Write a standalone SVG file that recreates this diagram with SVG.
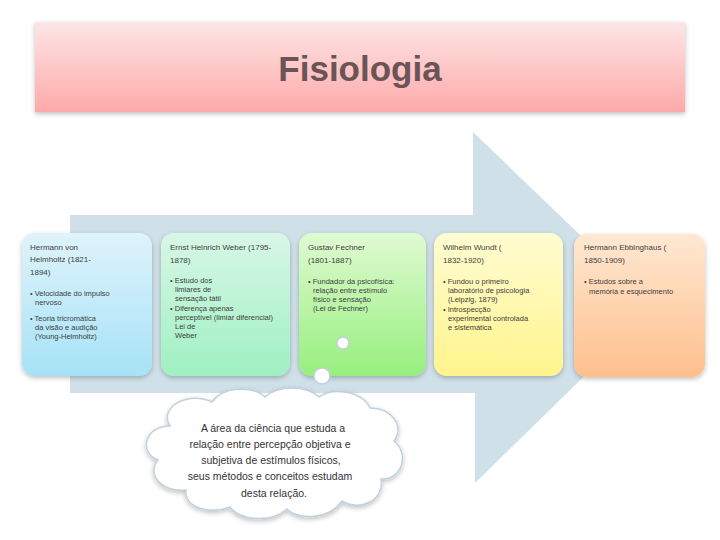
<svg xmlns="http://www.w3.org/2000/svg" width="720" height="540" viewBox="0 0 720 540">
<defs>
<linearGradient id="gTitle" x1="0" y1="0" x2="0" y2="1"><stop offset="0" stop-color="#fde6e6"/><stop offset="1" stop-color="#ffa9a9"/></linearGradient>
<linearGradient id="g1" x1="0" y1="0" x2="0" y2="1"><stop offset="0" stop-color="#dff3fb"/><stop offset="1" stop-color="#a6e2f6"/></linearGradient>
<linearGradient id="g2" x1="0" y1="0" x2="0" y2="1"><stop offset="0" stop-color="#d8f7e6"/><stop offset="1" stop-color="#9ff0c2"/></linearGradient>
<linearGradient id="g3" x1="0" y1="0" x2="0" y2="1"><stop offset="0" stop-color="#e0fad2"/><stop offset="1" stop-color="#96ef7e"/></linearGradient>
<linearGradient id="g4" x1="0" y1="0" x2="0" y2="1"><stop offset="0" stop-color="#fffcd2"/><stop offset="1" stop-color="#fff48c"/></linearGradient>
<linearGradient id="g5" x1="0" y1="0" x2="0" y2="1"><stop offset="0" stop-color="#ffe8d2"/><stop offset="1" stop-color="#ffbf8c"/></linearGradient>
<filter id="sh" x="-10%" y="-10%" width="120%" height="130%"><feGaussianBlur in="SourceAlpha" stdDeviation="2.5"/><feOffset dy="2" result="b"/><feComponentTransfer><feFuncA type="linear" slope="0.25"/></feComponentTransfer><feMerge><feMergeNode/><feMergeNode in="SourceGraphic"/></feMerge></filter>
</defs>
<style>
.box{stroke:none;filter:url(#sh)}
.t{font-family:"Liberation Sans",Arial,sans-serif;fill:#3e3e3e;font-size:8px}
.b{font-family:"Liberation Sans",Arial,sans-serif;fill:#3e3e3e;font-size:7.5px}
.c{font-family:"Liberation Sans",Arial,sans-serif;fill:#333333;font-size:10.5px;text-anchor:middle}
.bub{fill:#ffffff;stroke:#c0d0dc;stroke-width:1.5}
</style>
<rect width="720" height="540" fill="#ffffff"/>

<g id="title">
<rect x="35" y="22" width="650" height="90" fill="url(#gTitle)" filter="url(#sh)"/>
<text x="360" y="81" text-anchor="middle" font-family="Liberation Sans, Arial, sans-serif" font-size="35" font-weight="bold" fill="#6a5456">Fisiologia</text>
</g>

<g id="arrow">
<path d="M70,215 H473 V132 L655,307 L475,483 V393 H70 Z" fill="#cfe0e8"/>
</g>

<g id="node1">
<rect class="box" x="22" y="233" width="130" height="143" rx="13" fill="url(#g1)"/>
<text class="t" x="30" y="250">Hermann von</text>
<text class="t" x="30" y="262">Helmholtz (1821-</text>
<text class="t" x="30" y="275">1894)</text>
<text class="b" x="30" y="296">• Velocidade do impulso</text>
<text class="b" x="35" y="305">nervoso</text>
<text class="b" x="30" y="321">• Teoria tricromática</text>
<text class="b" x="35" y="330">da visão e audição</text>
<text class="b" x="35" y="339">(Young-Helmholtz)</text>
</g>

<g id="node2">
<rect class="box" x="161" y="233" width="129" height="143" rx="13" fill="url(#g2)"/>
<text class="t" x="170" y="250">Ernst Heinrich Weber (1795-</text>
<text class="t" x="170" y="263">1878)</text>
<text class="b" x="170" y="283">• Estudo dos</text>
<text class="b" x="175" y="292">limiares de</text>
<text class="b" x="175" y="301">sensação tátil</text>
<text class="b" x="170" y="311">• Diferença apenas</text>
<text class="b" x="175" y="320">perceptível (limiar diferencial)</text>
<text class="b" x="175" y="329">Lei de</text>
<text class="b" x="175" y="338">Weber</text>
</g>

<g id="node3">
<rect class="box" x="299" y="233" width="127" height="143" rx="13" fill="url(#g3)"/>
<text class="t" x="308" y="250">Gustav Fechner</text>
<text class="t" x="308" y="263">(1801-1887)</text>
<text class="b" x="308" y="284">• Fundador da psicofísica:</text>
<text class="b" x="313" y="293">relação entre estímulo</text>
<text class="b" x="313" y="302">físico e sensação</text>
<text class="b" x="313" y="311">(Lei de Fechner)</text>
</g>

<g id="node4">
<rect class="box" x="434" y="233" width="129" height="143" rx="13" fill="url(#g4)"/>
<text class="t" x="443" y="250">Wilhelm Wundt (</text>
<text class="t" x="443" y="263">1832-1920)</text>
<text class="b" x="443" y="284">• Fundou o primeiro</text>
<text class="b" x="448" y="293">laboratório de psicologia</text>
<text class="b" x="448" y="302">(Leipzig, 1879)</text>
<text class="b" x="443" y="312">• Introspecção</text>
<text class="b" x="448" y="321">experimental controlada</text>
<text class="b" x="448" y="330">e sistemática</text>
</g>

<g id="node5">
<rect class="box" x="574" y="234" width="131" height="143" rx="13" fill="url(#g5)"/>
<text class="t" x="584" y="250">Hermann Ebbinghaus (</text>
<text class="t" x="584" y="263">1850-1909)</text>
<text class="b" x="584" y="284">• Estudos sobre a</text>
<text class="b" x="589" y="294">memória e esquecimento</text>
</g>

<g id="cloud">
<circle class="bub" cx="343" cy="343" r="6"/>
<circle class="bub" cx="322" cy="376" r="8"/>
<path class="bub" filter="url(#sh)" d="M170,426 C158,406 190,391 212,402 C222,387 252,385 265,397 C278,385 306,385 319,397 C333,387 362,391 370,408 C391,408 405,425 394,441 C410,454 402,480 381,479 C385,500 360,512 342,501 C330,519 299,521 287,509 C271,523 240,521 230,507 C209,515 184,507 186,490 C162,493 146,474 158,460 C138,452 145,426 170,426 Z"/>
<text class="c" x="273" y="432">A área da ciência que estuda a</text>
<text class="c" x="270" y="448">relação entre percepção objetiva e</text>
<text class="c" x="271" y="464">subjetiva de estímulos físicos,</text>
<text class="c" x="270" y="480">seus métodos e conceitos estudam</text>
<text class="c" x="274" y="497">desta relação.</text>
</g>

<g id="connectors"></g>
</svg>
